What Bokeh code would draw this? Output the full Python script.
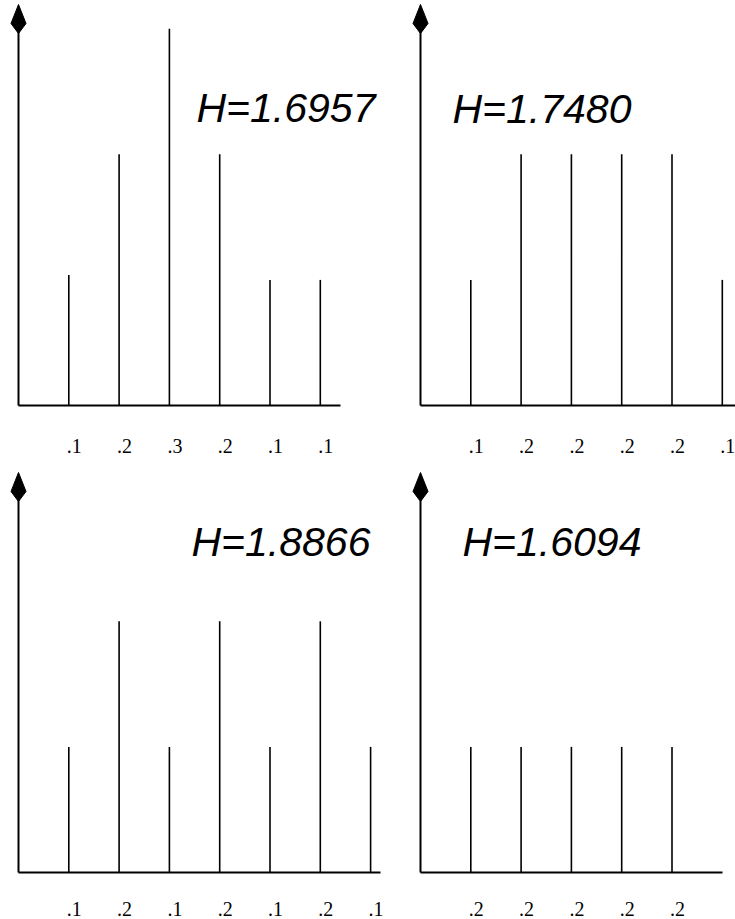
from bokeh.plotting import figure
from bokeh.layouts import column, row
from bokeh.models import Range1d
from bokeh.core.properties import value
from bokeh.embed import file_html
from bokeh.resources import INLINE

# ---------------- data ----------------
p1_values = [0.104, 0.2, 0.3, 0.2, 0.1, 0.1]
p1_labels = [".1", ".2", ".3", ".2", ".1", ".1"]
p1_entropy = "H=1.6957"

p2_values = [0.1, 0.2, 0.2, 0.2, 0.2, 0.1]
p2_labels = [".1", ".2", ".2", ".2", ".2", ".1"]
p2_entropy = "H=1.7480"

p3_values = [0.1, 0.2, 0.1, 0.2, 0.1, 0.2, 0.1]
p3_labels = [".1", ".2", ".1", ".2", ".1", ".2", ".1"]
p3_entropy = "H=1.8866"

p4_values = [0.2, 0.2, 0.2, 0.2, 0.2]
p4_labels = [".2", ".2", ".2", ".2", ".2"]
p4_entropy = "H=1.6094"

# ---------------- layout (page pixels) ----------------
SPACING = 50.3      # px between stems
ARROW_HALF = 7.5
ARROW_WIDE = 19
ARROW_LEN = 29

panels = [
    dict(values=p1_values, labels=p1_labels, title=p1_entropy,
         fig_left=0, fig_top=0, W=410, H=459, axis_x=18, base_y=405, ppu=1256,
         tip=4, x_end=340, text_xy=(196, 107), lbl_gap=40),
    dict(values=p2_values, labels=p2_labels, title=p2_entropy,
         fig_left=410, fig_top=0, W=325, H=459, axis_x=420, base_y=405, ppu=1256,
         tip=4, x_end=735, text_xy=(452, 108), lbl_gap=40),
    dict(values=p3_values, labels=p3_labels, title=p3_entropy,
         fig_left=0, fig_top=459, W=410, H=460, axis_x=18, base_y=872, ppu=1256,
         tip=472, x_end=380, text_xy=(191, 541), lbl_gap=36),
    dict(values=p4_values, labels=p4_labels, title=p4_entropy,
         fig_left=410, fig_top=459, W=325, H=460, axis_x=420, base_y=872, ppu=628,
         tip=472, x_end=722, text_xy=(462, 541), lbl_gap=36),
]


def make_panel(cfg):
    ax, by, ppu = cfg["axis_x"], cfg["base_y"], cfg["ppu"]

    def xd(px):
        return (px - ax) / SPACING

    def yd(py):
        return (by - py) / ppu

    left, top, W, H = cfg["fig_left"], cfg["fig_top"], cfg["W"], cfg["H"]
    p = figure(width=W, height=H, output_backend="svg", toolbar_location=None,
               x_axis_type=None, y_axis_type=None,
               x_range=Range1d(xd(left), xd(left + W)),
               y_range=Range1d(yd(top + H), yd(top)),
               min_border=0, tools="")
    p.outline_line_color = None
    p.background_fill_color = "white"
    p.border_fill_color = "white"
    p.xgrid.visible = False
    p.ygrid.visible = False

    vals = cfg["values"]
    idx = list(range(1, len(vals) + 1))

    # stems
    p.segment(x0=idx, y0=[0] * len(vals), x1=idx, y1=vals,
              line_color="black", line_width=1.6)

    # x axis
    p.segment(x0=[0], y0=[0], x1=[xd(cfg["x_end"])], y1=[0],
              line_color="black", line_width=2)
    # y axis
    tip = cfg["tip"]
    p.segment(x0=[0], y0=[0], x1=[0], y1=[yd(tip + ARROW_WIDE)],
              line_color="black", line_width=2)
    # arrow head (kite)
    p.patch(x=[0, xd(ax - ARROW_HALF), 0, xd(ax + ARROW_HALF)],
            y=[yd(tip), yd(tip + ARROW_WIDE), yd(tip + ARROW_LEN), yd(tip + ARROW_WIDE)],
            fill_color="black", line_color="black", line_width=1)

    # tick labels (kept inside the canvas)
    right_px = left + W
    lbl_x = []
    for i in idx:
        stem_px = ax + i * SPACING
        lx = min(stem_px - 2, right_px - 15)
        lbl_x.append(xd(lx))
    p.text(x=lbl_x, y=[yd(by + cfg["lbl_gap"])] * len(idx), text=cfg["labels"],
           text_font=value("Liberation Serif"), text_font_size="20px",
           text_align="left", text_baseline="alphabetic", text_color="black")

    # entropy text
    tx, ty = cfg["text_xy"]
    p.text(x=[xd(tx)], y=[yd(ty)], text=[cfg["title"]],
           text_font=value("Liberation Sans"), text_font_style="italic",
           text_font_size="41px", text_align="left", text_baseline="alphabetic",
           text_color="black")
    return p


figs = [make_panel(c) for c in panels]
layout = column(row(figs[0], figs[1], spacing=0), row(figs[2], figs[3], spacing=0), spacing=0)

open("out.html", "w").write(file_html(layout, INLINE))
